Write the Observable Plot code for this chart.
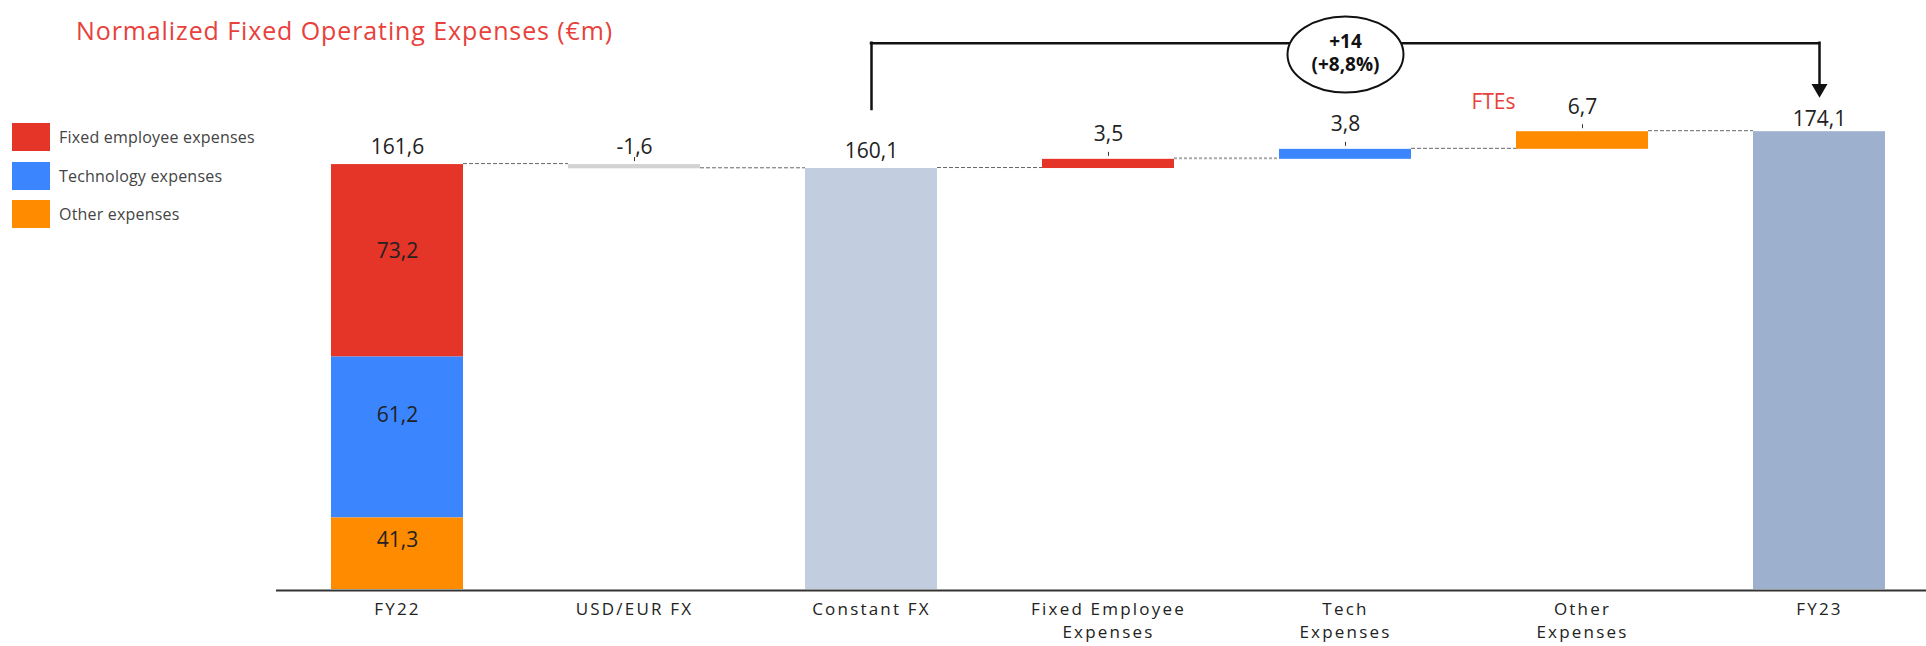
<!DOCTYPE html>
<html>
<head>
<meta charset="utf-8">
<script src="https://cdn.jsdelivr.net/npm/d3@7"></script>
<script src="https://cdn.jsdelivr.net/npm/@observablehq/plot@0.6"></script>
<style>
  html, body { margin: 0; padding: 0; background: #fff; }
  #chart { position: relative; width: 1926px; height: 646px; overflow: hidden; font-family: "Open Sans", sans-serif; }
  #chart svg { position: absolute; left: 0; top: 0; }
  #chart svg [aria-label="x-axis tick label"] { letter-spacing: 2.2px; }
  .title { position: absolute; left: 76px; top: 18px; font-size: 25px; line-height: 25px; letter-spacing: 0.9px; color: #E8413C; white-space: nowrap; }
  .legend { position: absolute; left: 12px; top: 123px; }
  .legend-item { display: flex; align-items: center; height: 28px; margin-bottom: 10.5px; font-size: 16px; letter-spacing: 0.2px; color: #444; white-space: nowrap; }
  .legend-item .swatch { width: 38px; height: 28px; margin-right: 9px; }
</style>
</head>
<body>
<div id="chart">
  <div class="title">Normalized Fixed Operating Expenses (€m)</div>
  <div class="legend" id="legend"></div>
</div>
<script>
// Waterfall steps from FY22 to FY23
const categories = ["FY22", "USD/EUR FX", "Constant FX", "Fixed Employee\nExpenses", "Tech\nExpenses", "Other\nExpenses", "FY23"];
const kinds = ["total", "delta", "total", "delta", "delta", "delta", "total"];
const values = [161.6, -1.6, 160.1, 3.5, 3.8, 6.7, 174.1];

// FY22 split by expense type (stacked from the top of the bar)
const segmentNames = ["Fixed employee expenses", "Technology expenses", "Other expenses"];
const segmentValues = [73.2, 61.2, 41.3];

// Bracket annotation between Constant FX and FY23
const changeText = ["+14", "(+8,8%)"];
const noteText = "FTEs";

const red = "#E53428", blue = "#3B86FF", orange = "#FF8C00";
const segmentColors = [red, blue, orange];
const barFill = {
  "USD/EUR FX": "#D3D3D3",
  "Constant FX": "#C2CEE0",
  "Fixed Employee\nExpenses": red,
  "Tech\nExpenses": blue,
  "Other\nExpenses": orange,
  "FY23": "#9DB0CE"
};

const fmt = v => v.toFixed(1).replace(".", ",");

// running totals for the waterfall
let running = 0;
const rows = categories.map((category, i) => {
  let y1, y2;
  if (kinds[i] === "total") { y1 = 0; y2 = values[i]; }
  else { y1 = running; y2 = running + values[i]; }
  running = y2;
  return {category, kind: kinds[i], value: values[i], label: fmt(values[i]), y1, y2, top: Math.max(y1, y2), end: y2};
});

// FY22 segments, stacked downward from the total and clipped at zero
let cursor = values[0];
const segments = segmentNames.map((name, i) => {
  const y2 = cursor;
  const y1 = Math.max(0, cursor - segmentValues[i]);
  cursor = y1;
  return {category: categories[0], name, value: segmentValues[i], label: fmt(segmentValues[i]), y1, y2, mid: (y1 + y2) / 2, fill: segmentColors[i]};
});

const connectors = rows.slice(0, -1).map((r, i) => ({x1: r.category, x2: categories[i + 1], y: r.end, i}));

// legend
const legend = document.getElementById("legend");
segmentNames.forEach((name, i) => {
  const item = document.createElement("div");
  item.className = "legend-item";
  item.innerHTML = `<div class="swatch" style="background:${segmentColors[i]}"></div><span>${name}</span>`;
  legend.appendChild(item);
});

// elliptical badge symbol for the change annotation
const ellipse = {
  draw(context) {
    const rx = 58, ry = 38, k = 0.5523;
    context.moveTo(rx, 0);
    context.bezierCurveTo(rx, ry * k, rx * k, ry, 0, ry);
    context.bezierCurveTo(-rx * k, ry, -rx, ry * k, -rx, 0);
    context.bezierCurveTo(-rx, -ry * k, -rx * k, -ry, 0, -ry);
    context.bezierCurveTo(rx * k, -ry, rx, -ry * k, rx, 0);
    context.closePath();
  }
};

const deltaRows = rows.filter(r => r.kind === "delta");
const bw = 132;   // band width in pixels
const half = bw / 2;

const chart = Plot.plot({
  width: 1926,
  height: 646,
  marginLeft: 276,
  marginRight: 0,
  marginTop: 0,
  marginBottom: 57,
  style: {fontFamily: "'Open Sans', sans-serif", fontSize: "20px", background: "transparent", color: "#222"},
  x: {type: "band", domain: categories, range: [329, 1887], paddingInner: 0.444, paddingOuter: 0},
  y: {domain: [0, 224], axis: null},
  color: {type: "identity"},
  marks: [
    // connectors from the right edge of one bar to the left edge of the next
    Plot.ruleY(connectors.filter(d => d.i !== 3), {y: "y", x1: "x1", x2: "x2", insetLeft: bw, insetRight: bw, dy: -1, stroke: "#666", strokeWidth: 1, strokeDasharray: "4,2"}),
    Plot.ruleY(connectors.filter(d => d.i === 3), {y: "y", x1: "x1", x2: "x2", insetLeft: bw, insetRight: bw, dy: -1, stroke: "#aaa", strokeWidth: 2, strokeDasharray: "3,2"}),
    // FY22 stacked bar
    Plot.barY(segments, {x: "category", y1: "y1", y2: "y2", fill: "fill"}),
    // remaining waterfall bars
    Plot.barY(rows.slice(1), {x: "category", y1: "y1", y2: "y2", fill: d => barFill[d.category]}),
    // small ticks above the change bars
    Plot.ruleX(deltaRows, {x: "category", y1: "top", y2: "top", insetTop: -3, insetBottom: 7, stroke: "#333", strokeWidth: 1}),
    // baseline
    Plot.ruleY([0], {stroke: "#333", strokeWidth: 2, dy: 1}),
    // value labels
    Plot.text(rows.filter(r => r.category !== "FY23" && !deltaRows.slice(1).includes(r)), {x: "category", y: "top", text: "label", lineAnchor: "bottom", dy: -11, fontSize: 21, fill: "#222"}),
    Plot.text(deltaRows.slice(1), {x: "category", y: "top", text: "label", lineAnchor: "bottom", dy: -18, fontSize: 21, fill: "#222"}),
    Plot.text(rows.filter(r => r.category === "FY23"), {x: "category", y: "top", text: "label", lineAnchor: "bottom", dy: -6, fontSize: 21, fill: "#222"}),
    Plot.text(segments.slice(0, 1), {x: "category", y: "mid", text: "label", dy: -10, fontSize: 21, fill: "#222"}),
    Plot.text(segments.slice(1, 2), {x: "category", y: "mid", text: "label", dy: -22, fontSize: 21, fill: "#222"}),
    Plot.text(segments.slice(2, 3), {x: "category", y: "mid", text: "label", dy: -13, fontSize: 21, fill: "#222"}),
    // FTEs note next to the other-expenses step
    Plot.text(rows.filter(r => r.category === "Other\nExpenses"), {x: "category", y: "top", text: () => noteText, lineAnchor: "bottom", dx: -89, dy: -23, fontSize: 21, fill: "#E8413C"}),
    // bracket from Constant FX to FY23
    Plot.ruleY(rows.filter(r => r.category === "FY23"), {y: "top", x1: () => "Constant FX", x2: "category", insetLeft: half, insetRight: half, dy: -88.5, stroke: "#111", strokeWidth: 2.5, strokeLinecap: "square"}),
    Plot.ruleX(["Constant FX"], {insetTop: 42.7, insetBottom: 480, stroke: "#111", strokeWidth: 2.5, strokeLinecap: "square"}),
    Plot.ruleX(["FY23"], {insetTop: 42.7, insetBottom: 501, stroke: "#111", strokeWidth: 2.5, strokeLinecap: "square"}),
    Plot.dot(["FY23"], {x: d => d, frameAnchor: "top", dy: 88, symbol: "triangle", r: 5.94, rotate: 180, fill: "#111", stroke: null}),
    Plot.dot(["Tech\nExpenses"], {x: d => d, frameAnchor: "top", dy: 54, symbol: ellipse, r: 10, fill: "white", stroke: "#111", strokeWidth: 2}),
    Plot.text(["Tech\nExpenses"], {x: d => d, frameAnchor: "top", dy: 52, text: () => changeText.join("\n"), lineAnchor: "middle", lineHeight: 1.2, fontSize: 19, fontWeight: "bold", fill: "#111"}),
    // category axis
    Plot.axisX({tickSize: 0, tickPadding: 9, fontSize: 17, fill: "#222", lineHeight: 1.35, label: null})
  ]
});

document.getElementById("chart").prepend(chart);
</script>
</body>
</html>
